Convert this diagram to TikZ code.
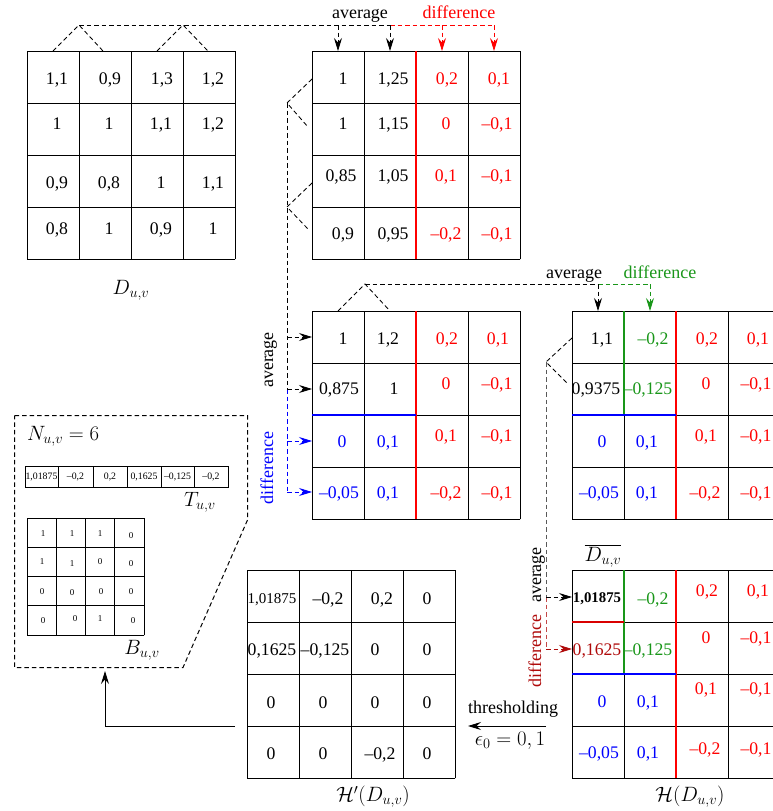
\documentclass[tikz,border=0pt]{standalone}
\usepackage{fontspec}
\setmainfont{Liberation Serif}
\usetikzlibrary{arrows.meta}
\definecolor{mygreen}{RGB}{25,150,25}
\definecolor{mydred}{RGB}{175,10,10}
\newcommand\mkgrid[2]{%
  \foreach \i in {0,1,2,3,4}{%
    \draw[gridline] ({#1+\i*52},#2) -- ({#1+\i*52},{#2+208});
    \draw[gridline] (#1,{#2+\i*52}) -- ({#1+208},{#2+\i*52});
  }}
\newcommand\V[5][]{\node[num,#1] (#2) at (#3,#4) {#5};}
\begin{document}
\begin{tikzpicture}[x=1pt,y=-1pt,
  gridline/.style={line width=0.8pt,line cap=rect},
  cline/.style={line width=1.1pt},
  num/.style={font=\fontsize{17.7}{20}\selectfont, inner sep=0pt, text height=12pt, text depth=0pt},
  sm/.style={font=\fontsize{15}{17}\selectfont, text height=10.1pt},
  smb/.style={font=\bfseries\fontsize{14.8}{17}\selectfont, text height=10pt},
  tiny/.style={font=\fontsize{9.8}{11}\selectfont, text height=6.6pt},
  bdig/.style={font=\fontsize{9}{10}\selectfont, text height=6.1pt},
  lab/.style={font=\fontsize{18}{20}\selectfont, inner sep=0pt, anchor=base},
  mlab/.style={font=\fontsize{20}{22}\selectfont, inner sep=0pt},
  dsh/.style={dash pattern=on 4.5pt off 3pt, line width=0.85pt},
  tip/.style={-{Stealth[length=13pt,width=8pt,inset=4.5pt]}},
]
\useasboundingbox (0,0) rectangle (773,811);
\clip (0,0) rectangle (773,811);

% ---------- grid 1 : D_{u,v}
\mkgrid{27}{51}
\V{a11}{57}{78}{1,1} \V{a12}{110}{78}{0,9} \V{a13}{162}{78}{1,3} \V{a14}{213}{78}{1,2}
\V{a21}{57}{123}{1} \V{a22}{109}{123}{1} \V{a23}{161}{123}{1,1} \V{a24}{213}{123}{1,2}
\V{a31}{57}{182}{0,9} \V{a32}{109}{182}{0,8} \V{a33}{161}{182}{1} \V{a34}{213}{182}{1,1}
\V{a41}{57}{228}{0,8} \V{a42}{109}{228}{1} \V{a43}{161}{228}{0,9} \V{a44}{213}{228}{1}
\node[mlab] (Dlab) at (131,290) {$D_{u,v}$};

% ---------- grid 2
\mkgrid{312}{51}
\draw[cline,red] (416,51) -- (416,259);
\V{b11}{343}{78}{1} \V{b12}{393}{78}{1,25} \V[red]{b13}{447}{78}{0,2} \V[red]{b14}{499}{78}{0,1}
\V{b21}{343}{123}{1} \V{b22}{393}{123}{1,15} \V[red]{b23}{446}{123}{0} \V[red]{b24}{497}{123}{--0,1}
\V{b31}{341}{175}{0,85} \V{b32}{393}{175}{1,05} \V[red]{b33}{446}{175}{0,1} \V[red]{b34}{497}{175}{--0,1}
\V{b41}{343}{233}{0,9} \V{b42}{393}{233}{0,95} \V[red]{b43}{446}{233}{--0,2} \V[red]{b44}{497}{233}{--0,1}

% ---------- grid 3
\mkgrid{312}{311}
\draw[cline,red] (416,311) -- (416,519);
\draw[cline,blue] (312,415) -- (416,415);
\V{c11}{343}{338}{1} \V{c12}{388}{338}{1,2} \V[red]{c13}{447}{338}{0,2} \V[red]{c14}{498}{338}{0,1}
\V{c21}{339}{388}{0,875} \V{c22}{394}{388}{1} \V[red]{c23}{446}{383}{0} \V[red]{c24}{497}{383}{--0,1}
\V[blue]{c31}{342}{441}{0} \V[blue]{c32}{388}{441}{0,1} \V[red]{c33}{446}{435}{0,1} \V[red]{c34}{497}{435}{--0,1}
\V[blue]{c41}{339}{492}{--0,05} \V[blue]{c42}{388}{492}{0,1} \V[red]{c43}{446}{492}{--0,2} \V[red]{c44}{497}{492}{--0,1}

% ---------- grid 4
\mkgrid{572}{311}
\draw[cline,red] (676,311) -- (676,519);
\draw[cline,mygreen] (624,311) -- (624,415);
\draw[cline,blue] (572,415) -- (676,415);
\V{d11}{602}{338}{1,1} \V[mygreen]{d12}{653}{338}{--0,2} \V[red]{d13}{707}{338}{0,2} \V[red]{d14}{758}{338}{0,1}
\V{d21}{596}{388}{0,9375} \V[mygreen]{d22}{648}{388}{--0,125} \V[red]{d23}{706}{383}{0} \V[red]{d24}{756}{383}{--0,1}
\V[blue]{d31}{602}{441}{0} \V[blue]{d32}{647}{441}{0,1} \V[red]{d33}{706}{435}{0,1} \V[red]{d34}{756}{435}{--0,1}
\V[blue]{d41}{599}{492}{--0,05} \V[blue]{d42}{647}{492}{0,1} \V[red]{d43}{705}{492}{--0,2} \V[red]{d44}{756}{492}{--0,1}

% ---------- grid 5 : H(D_{u,v})
\mkgrid{572}{570}
\draw[cline,red] (676,570) -- (676,778);
\draw[cline,mygreen] (624,570) -- (624,674);
\draw[cline,blue] (572,674) -- (676,674);
\draw[cline,red!85!black] (572,622) -- (624,622);
\V[smb]{e11}{597}{597}{1,01875} \V[mygreen]{e12}{653}{598}{--0,2} \V[red]{e13}{707}{590}{0,2} \V[red]{e14}{758}{590}{0,1}
\V[mydred]{e21}{597}{649}{0,1625} \V[mygreen]{e22}{648}{649}{--0,125} \V[red]{e23}{706}{637}{0} \V[red]{e24}{756}{637}{--0,1}
\V[blue]{e31}{602}{701}{0} \V[blue]{e32}{648}{701}{0,1} \V[red]{e33}{706}{688}{0,1} \V[red]{e34}{756}{688}{--0,1}
\V[blue]{e41}{599}{752}{--0,05} \V[blue]{e42}{648}{752}{0,1} \V[red]{e43}{705}{748}{--0,2} \V[red]{e44}{756}{748}{--0,1}
\node[mlab] (Hlab) at (690,797) {$\mathcal{H}(D_{u,v})$};
\node[mlab] (Dbar) at (603,556) {$\overline{D_{u,v}}$};

% ---------- grid 6 : H'(D_{u,v})
\mkgrid{247}{570}
\V[sm]{f11}{272}{598}{1,01875} \V{f12}{328}{598}{--0,2} \V{f13}{382}{598}{0,2} \V{f14}{427}{598}{0}
\V{f21}{272}{649}{0,1625} \V{f22}{325}{649}{--0,125} \V{f23}{375}{649}{0} \V{f24}{427}{649}{0}
\V{f31}{271}{702}{0} \V{f32}{323}{702}{0} \V{f33}{375}{702}{0} \V{f34}{427}{702}{0}
\V{f41}{271}{753}{0} \V{f42}{323}{753}{0} \V{f43}{380}{753}{--0,2} \V{f44}{427}{753}{0}
\node[mlab] (Hplab) at (373,797) {$\mathcal{H}'(D_{u,v})$};

% ---------- panel
\draw[dsh,line width=1pt] (14.5,415.5) -- (247.5,415.5) -- (247.5,520) -- (183,667.5) -- (14.5,667.5) -- cycle;
\node[mlab,anchor=west] (Nlab) at (27,436) {$N_{u,v}=6$};
\draw[gridline] (25,466) rectangle (228,487);
\foreach \xx in {58,93,127,161,194} \draw[gridline] (\xx,466) -- (\xx,487);
\V[tiny]{t1}{41.5}{476.5}{1,01875} \V[tiny]{t2}{75.5}{476.5}{--0,2} \V[tiny]{t3}{110}{476.5}{0,2}
\V[tiny]{t4}{144}{476.5}{0,1625} \V[tiny]{t5}{177.5}{476.5}{--0,125} \V[tiny]{t6}{211}{476.5}{--0,2}
\node[mlab] (Tlab) at (200,502) {$T_{u,v}$};
\foreach \i in {0,1,2,3,4}{%
  \draw[gridline] ({27+\i*29.25},518) -- ({27+\i*29.25},635);
  \draw[gridline] (27,{518+\i*29.25}) -- (144,{518+\i*29.25});}
\V[bdig]{m11}{43}{533}{1} \V[bdig]{m12}{72}{533}{1} \V[bdig]{m13}{100}{533}{1} \V[bdig]{m14}{131}{535}{0}
\V[bdig]{m21}{42}{561}{1} \V[bdig]{m22}{72}{563}{1} \V[bdig]{m23}{100}{561}{0} \V[bdig]{m24}{131}{563}{0}
\V[bdig]{m31}{42}{591}{0} \V[bdig]{m32}{72}{592}{0} \V[bdig]{m33}{101}{591}{0} \V[bdig]{m34}{131}{591}{0}
\V[bdig]{m41}{43}{620}{0} \V[bdig]{m42}{75}{618}{0} \V[bdig]{m43}{100}{618}{1} \V[bdig]{m44}{133}{620}{0}
\node[mlab] (Blab) at (142,650) {$B_{u,v}$};

% ---------- labels
\node[lab] (avg1) at (360,18) {average};
\node[lab,red] (dif1) at (459,18) {difference};
\node[lab] (avg2) at (574,278) {average};
\node[lab,mygreen] (dif2) at (660,278) {difference};
\node[lab,rotate=90] (avg3) at (273,360) {average};
\node[lab,rotate=90,blue] (dif3) at (273,468) {difference};
\node[lab,rotate=90] (avg4) at (541,575) {average};
\node[lab,rotate=90,mydred] (dif4) at (541,651) {difference};
\node[lab] (thr) at (513,713) {thresholding};
\node[mlab] (eps) at (510,741) {$\epsilon_0=0,1$};

% ---------- connectors G1 -> G2
\coordinate (q1) at (53,51); \coordinate (p1) at (79,25); \coordinate (q2) at (103,51);
\coordinate (q3) at (157,51); \coordinate (p2) at (183,25); \coordinate (q4) at (208,51);
\coordinate (h1) at (338,25); \coordinate (h2) at (390,25); \coordinate (h3) at (442,25); \coordinate (h4) at (494,25);
\coordinate (k1) at (338,51); \coordinate (k2) at (390,51); \coordinate (k3) at (442,51); \coordinate (k4) at (494,51);
\draw[dsh] (q1) -- (p1) -- (q2);
\draw[dsh] (q3) -- (p2) -- (q4);
\draw[dsh] (p1) -- (h2);
\draw[dsh,red] (h2) -- (h4);
\draw[dsh,tip] (h1) -- (k1);
\draw[dsh,tip] (h2) -- (k2);
\draw[dsh,tip,red] (h3) -- (k3);
\draw[dsh,tip,red] (h4) -- (k4);

% ---------- connectors G2 -> G3
\coordinate (r1) at (312,79); \coordinate (s1) at (287,103); \coordinate (r2) at (308,127);
\coordinate (r3) at (312,183); \coordinate (s2) at (287,207); \coordinate (r4) at (308,229);
\coordinate (v1) at (287,337); \coordinate (v2) at (287,389); \coordinate (v3) at (287,441); \coordinate (v4) at (287,492);
\coordinate (w1) at (312,337); \coordinate (w2) at (312,389); \coordinate (w3) at (312,441); \coordinate (w4) at (312,492);
\draw[dsh] (r1) -- (s1) -- (r2);
\draw[dsh] (r3) -- (s2) -- (r4);
\draw[dsh] (s1) -- (v2);
\draw[dsh,blue] (v2) -- (v4);
\draw[dsh,tip] (v1) -- (w1);
\draw[dsh,tip] (v2) -- (w2);
\draw[dsh,tip,blue] (v3) -- (w3);
\draw[dsh,tip,blue] (v4) -- (w4);

% ---------- connectors G3 -> G4
\coordinate (u1) at (338,311); \coordinate (p3) at (365,284); \coordinate (u2) at (390,311);
\coordinate (h5) at (598,284); \coordinate (h6) at (650,284);
\coordinate (k5) at (598,311); \coordinate (k6) at (650,311);
\draw[dsh] (u1) -- (p3) -- (u2);
\draw[dsh] (p3) -- (h5);
\draw[dsh,mygreen] (h5) -- (h6);
\draw[dsh,tip] (h5) -- (k5);
\draw[dsh,tip,mygreen] (h6) -- (k6);

% ---------- connectors G4 -> G5
\coordinate (x1) at (572,338); \coordinate (s3) at (546,362); \coordinate (x2) at (568,384);
\coordinate (v5) at (546,597); \coordinate (v6) at (546,649);
\coordinate (w5) at (572,597); \coordinate (w6) at (572,649);
\draw[dsh] (x1) -- (s3) -- (x2);
\draw[dsh,black!65] (s3) -- (v5);
\draw[dsh,mydred!75] (v5) -- (v6);
\draw[dsh,tip] (v5) -- (w5);
\draw[dsh,tip,mydred] (v6) -- (w6);

% ---------- thresholding and output arrows
\coordinate (th1) at (546,726); \coordinate (th2) at (468,726);
\draw[line width=0.9pt,tip] (th1) -- (th2);
\coordinate (o1) at (235,726); \coordinate (o2) at (105,726); \coordinate (o3) at (105,671);
\draw[line width=0.9pt,tip] (o1) -- (o2) -- (o3);
\end{tikzpicture}
\end{document}
